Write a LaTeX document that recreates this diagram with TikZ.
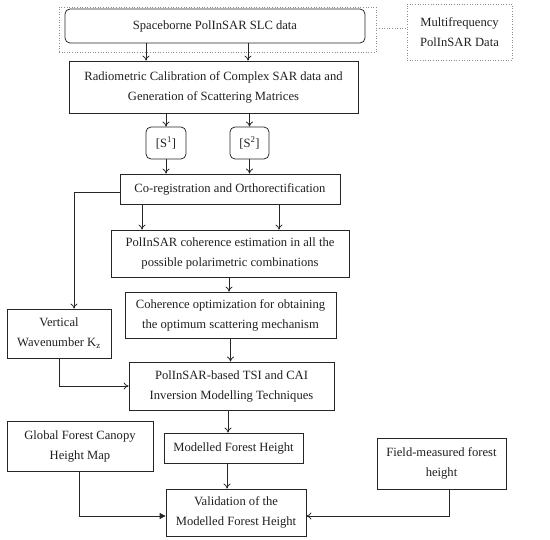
\documentclass[tikz,border=0pt]{standalone}
\usepackage{fontspec}
\setmainfont{Liberation Serif}
\usetikzlibrary{arrows.meta}
\begin{document}
\begin{tikzpicture}[x=1pt,y=-1pt,
  box/.style={draw=black!85, line width=0.75pt, align=center, inner sep=0pt, font=\fontsize{12.6}{20}\selectfont, text=black!88},
  rbox/.style={box, rounded corners=5pt},
  dbox/.style={draw=black!45, dotted, line width=0.6pt, inner sep=0pt, align=center, font=\fontsize{12.6}{20}\selectfont, text=black!88},
  arr/.style={draw=black!85, line width=0.75pt, -{To[length=5pt,width=7pt]}},
  farr/.style={draw=black!85, line width=0.75pt, -{Triangle[length=6pt,width=6pt]}}
]
\useasboundingbox (0,0) rectangle (550,540);
\node[dbox, minimum width=317pt, minimum height=45pt] (grp) at (217.5,29.5) {};
\node[rbox, minimum width=300pt, minimum height=34pt] (slc) at (215,26) {Spaceborne PolInSAR SLC data};
\node[dbox, minimum width=105pt, minimum height=56pt] (multi) at (459.5,32) {Multifrequency\\PolInSAR Data};
\node[box, minimum width=289pt, minimum height=52pt] (radio) at (213.5,87) {Radiometric Calibration of Complex SAR data and\\Generation of Scattering Matrices};
\node[rbox, minimum width=40pt, minimum height=32pt] (s1) at (166,143) {[S\textsuperscript{1}]};
\node[rbox, minimum width=39pt, minimum height=32pt] (s2) at (249.5,143) {[S\textsuperscript{2}]};
\node[box, minimum width=220pt, minimum height=30pt] (coreg) at (230,189) {Co-registration and Orthorectification};
\node[box, minimum width=238pt, minimum height=47pt] (coh) at (230,253.5) {PolInSAR coherence estimation in all the\\possible polarimetric combinations};
\node[box, minimum width=211pt, minimum height=46pt] (opt) at (230.5,315) {Coherence optimization for obtaining\\the optimum scattering mechanism};
\node[box, minimum width=205pt, minimum height=48pt] (tsi) at (231.5,386) {PolInSAR-based TSI and CAI\\Inversion Modelling Techniques};
\node[box, minimum width=104pt, minimum height=49pt] (vert) at (59,333.5) {Vertical\\Wavenumber K\textsubscript{z}};
\node[box, minimum width=139pt, minimum height=30pt] (model) at (233.5,448) {Modelled Forest Height};
\node[box, minimum width=146pt, minimum height=50pt] (global) at (80,446) {Global Forest Canopy\\Height Map};
\node[box, minimum width=129pt, minimum height=51pt] (field) at (441.5,463.5) {Field-measured forest\\height};
\node[box, minimum width=140pt, minimum height=47pt] (valid) at (236,512.5) {Validation of the\\Modelled Forest Height};

\draw[dotted, draw=black!45, line width=0.6pt] ([yshift=1.5pt]grp.east) -- ([yshift=1.5pt]grp.east -| multi.west);
\draw[arr] ([xshift=-69pt]slc.south) -- ([xshift=-69pt]slc.south |- radio.north);
\draw[arr] ([xshift=33pt]slc.south) -- ([xshift=33pt]slc.south |- radio.north);
\draw[arr] (radio.south -| s1.north) -- (s1.north);
\draw[arr] (radio.south -| s2.north) -- (s2.north);
\draw[arr] (s1.south) -- (s1.south |- coreg.north);
\draw[arr] (s2.south) -- (s2.south |- coreg.north);
\draw[arr] ([xshift=-88pt]coreg.south) -- ([xshift=-88pt]coreg.south |- coh.north);
\draw[arr] ([xshift=49pt]coreg.south) -- ([xshift=49pt]coreg.south |- coh.north);
\draw[arr] ([yshift=-3pt]coreg.west) -| ([xshift=15pt]vert.north);
\draw[arr] ([xshift=-1pt]coh.south) -- ([xshift=-1pt]coh.south |- opt.north);
\draw[arr] (opt.south) -- (opt.south |- tsi.north);
\draw[arr] (vert.south) |- (tsi.west);
\draw[arr] ([xshift=-3.5pt]tsi.south) -- ([xshift=-3.5pt]tsi.south |- model.north);
\draw[arr] ([xshift=-6.5pt]model.south) -- ([xshift=-6.5pt]model.south |- valid.north);
\draw[farr] ([xshift=-1pt]global.south) |- ([yshift=-3.5pt]valid.west);
\draw[arr] ([xshift=7.5pt]field.south) |- ([yshift=-3.5pt]valid.east);
\end{tikzpicture}
\end{document}
